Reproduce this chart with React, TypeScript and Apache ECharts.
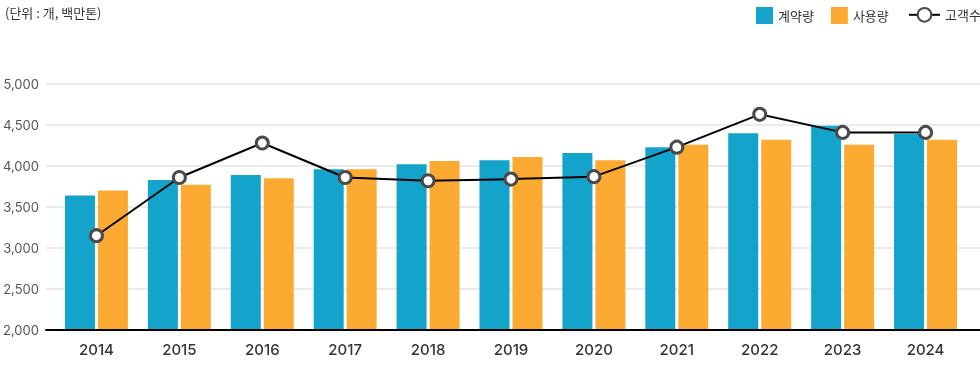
import React, { useEffect, useRef } from "react";
import * as echarts from "echarts";

const categories = ["2014", "2015", "2016", "2017", "2018", "2019", "2020", "2021", "2022", "2023", "2024"];
const contractValues = [3640, 3830, 3890, 3960, 4020, 4070, 4160, 4230, 4400, 4490, 4390];
const usageValues = [3700, 3770, 3850, 3960, 4060, 4110, 4070, 4260, 4320, 4260, 4320];
const customerValues = [3150, 3860, 4280, 3860, 3820, 3840, 3870, 4230, 4630, 4410, 4410];
const seriesNames = ["계약량", "사용량", "고객수"];
const unitLabel = "(단위 : 개, 백만톤)";

const FONT = "'Noto Sans CJK KR', 'Noto Sans', sans-serif";
const NUM_FONT = "Inter, 'Noto Sans', sans-serif";

export default function App() {
  const ref = useRef<HTMLDivElement>(null);
  useEffect(() => {
    if (!ref.current) return;
    const chart = echarts.init(ref.current, null, { renderer: "svg" });
    chart.setOption({
      animation: false,
      textStyle: { fontFamily: FONT },
      title: {
        text: unitLabel,
        left: 0,
        top: 1,
        textStyle: { fontSize: 13, fontWeight: "normal", color: "#333", fontFamily: FONT },
      },
      legend: [
        {
          data: [seriesNames[0], seriesNames[1]],
          left: 751,
          top: 2,
          itemWidth: 17,
          itemHeight: 17,
          itemGap: 17,
          icon: "rect",
          textStyle: { fontSize: 13, color: "#333", fontFamily: FONT },
        },
        {
          data: [seriesNames[2]],
          left: 903,
          top: 2,
          itemWidth: 31,
          itemHeight: 17,
          textStyle: { fontSize: 13, color: "#333", fontFamily: FONT },
        },
      ],
      grid: [
        { left: 42, right: 0, top: 84, bottom: 38, containLabel: false },
        { left: 55, right: 13, top: 84, bottom: 38, containLabel: false },
      ],
      xAxis: [
        {
          type: "category",
          gridIndex: 0,
          data: categories,
          axisLine: { show: true, lineStyle: { color: "#000", width: 2 } },
          axisTick: { show: false },
          axisLabel: { show: false },
          z: 10,
        },
        {
          type: "category",
          gridIndex: 1,
          data: categories,
          axisLine: { show: false },
          axisTick: { show: false },
          axisLabel: { fontSize: 15, fontWeight: 500, color: "#333", margin: 12, fontFamily: NUM_FONT },
        },
      ],
      yAxis: [
        {
          type: "value",
          gridIndex: 0,
          min: 2000,
          max: 5000,
          interval: 500,
          axisLine: { show: false },
          axisTick: { show: false },
          axisLabel: {
            fontSize: 13,
            color: "#555",
            margin: 7,
            fontFamily: NUM_FONT,
            formatter: (v: number) => v.toLocaleString("en-US"),
          },
          splitLine: { lineStyle: { color: "#ebebeb", width: 2 } },
        },
        {
          type: "value",
          gridIndex: 1,
          min: 2000,
          max: 5000,
          interval: 500,
          show: false,
          splitLine: { show: false },
        },
      ],
      series: [
        {
          name: seriesNames[0],
          type: "bar",
          xAxisIndex: 1,
          yAxisIndex: 1,
          data: contractValues,
          barWidth: 30,
          barGap: "10%",
          itemStyle: { color: "#13a3cb" },
        },
        {
          name: seriesNames[1],
          type: "bar",
          xAxisIndex: 1,
          yAxisIndex: 1,
          data: usageValues,
          barWidth: 30,
          barGap: "10%",
          itemStyle: { color: "#fdaa33" },
        },
        {
          name: seriesNames[2],
          type: "line",
          xAxisIndex: 1,
          yAxisIndex: 1,
          data: customerValues,
          symbol: "circle",
          symbolSize: 12,
          lineStyle: { color: "#000", width: 2 },
          itemStyle: { color: "#fff", borderColor: "#4a4a4a", borderWidth: 3 },
          z: 5,
        },
      ],
    });
    return () => chart.dispose();
  }, []);
  return <div ref={ref} style={{ position: "fixed", left: 0, top: 0, width: 980, height: 368 }} />;
}
